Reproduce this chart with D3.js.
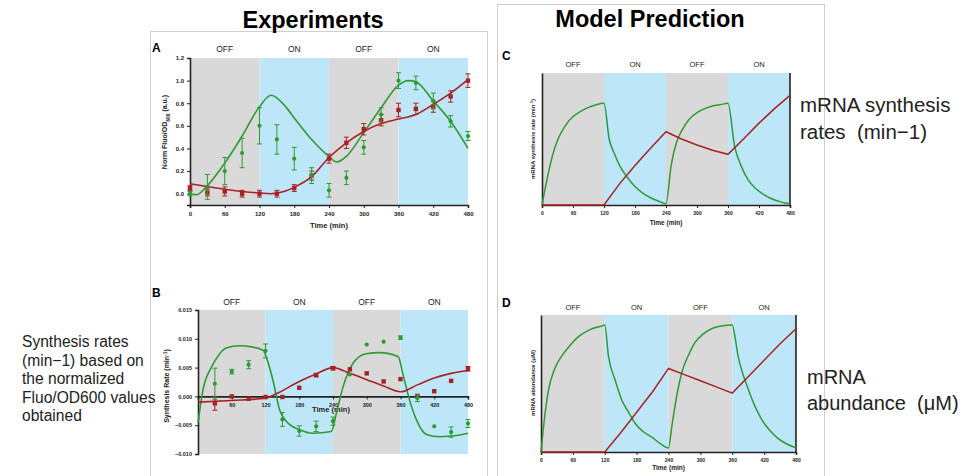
<!DOCTYPE html>
<html><head><meta charset="utf-8">
<script src="https://cdn.jsdelivr.net/npm/d3@7"></script>
<style>body{margin:0;background:#fff}svg{display:block;font-family:"Liberation Sans",Arial,sans-serif}</style>
</head><body>
<script>
// ---------- data ----------
const phaseStarts = [0, 120, 240, 360];
const phaseLabels = ["OFF", "ON", "OFF", "ON"];
const timeTicks = [0, 60, 120, 180, 240, 300, 360, 420, 480];
const timeTicksB = [60, 120, 180, 240, 300, 360, 420, 480];
const yTicksA = [0, 0.2, 0.4, 0.6, 0.8, 1.0, 1.2];
const yTicksB = [-0.010, -0.005, 0.000, 0.005, 0.010, 0.015];

const sampleTimes = [0, 30, 60, 90, 120, 150, 180, 210, 240, 270, 300, 330, 360, 390, 420, 450, 480];
// Panel A measured (normalized Fluo/OD600)
const greenA    = [0.00, 0.06, 0.20, 0.36, 0.60, 0.48, 0.31, 0.16, 0.03, 0.14, 0.41, 0.70, 1.00, 0.98, 0.82, 0.64, 0.51];
const greenAErr = [0.02, 0.11, 0.12, 0.13, 0.16, 0.13, 0.10, 0.07, 0.06, 0.06, 0.06, 0.06, 0.07, 0.06, 0.07, 0.05, 0.04];
const redA      = [0.05, 0.01, 0.02, 0.00, 0.00, 0.00, 0.05, 0.16, 0.31, 0.45, 0.57, 0.65, 0.74, 0.75, 0.77, 0.86, 1.00];
const redAErr   = [0.02, 0.03, 0.04, 0.03, 0.03, 0.03, 0.03, 0.04, 0.04, 0.05, 0.05, 0.05, 0.06, 0.05, 0.05, 0.05, 0.06];
// Panel A fits
const greenFitAT = [0, 11, 29, 60, 90, 120, 140, 165, 180, 210, 240, 253, 270, 300, 330, 360, 377, 390, 420, 450, 480];
const greenFitAV = [0.00, -0.01, 0.065, 0.27, 0.51, 0.77, 0.87, 0.77, 0.67, 0.48, 0.33, 0.28, 0.33, 0.54, 0.76, 0.96, 1.00, 0.99, 0.82, 0.64, 0.40];
const redFitAT = [0, 60, 120, 140, 165, 180, 210, 240, 270, 300, 330, 360, 390, 420, 450, 480];
const redFitAV = [0.088, 0.04, 0.006, 0.00, 0.024, 0.056, 0.15, 0.32, 0.45, 0.55, 0.62, 0.66, 0.70, 0.79, 0.89, 1.01];

// Panel B measured synthesis rates (min^-1)
const greenBT   = [30, 60, 90, 120, 150, 180, 210, 240, 270, 300, 330, 360, 390, 420, 450, 480];
const greenB    = [0.0022, 0.0043, 0.0055, 0.0079, -0.0040, -0.0060, -0.0052, -0.0043, 0.0038, 0.0090, 0.0095, 0.0102, -0.0003, -0.0052, -0.0062, -0.0047];
const greenBErr = [0.0027, 0.0004, 0.0007, 0.0012, 0.0012, 0.0009, 0.0009, 0.0007, 0, 0, 0, 0.0003, 0.0006, 0, 0.0009, 0.0007];
const redBT     = [30, 60, 90, 120, 150, 180, 210, 240, 270, 300, 330, 360, 390, 420, 450, 480];
const redB      = [-0.0012, 0.0000, -0.0004, -0.0001, -0.0001, 0.0015, 0.0037, 0.0049, 0.0047, 0.0040, 0.0026, 0.0030, 0.0001, 0.0009, 0.0027, 0.0048];
const redBErr   = [0.0012, 0, 0, 0, 0, 0, 0.0003, 0.0003, 0, 0, 0, 0, 0, 0, 0, 0.0004];
// Panel B fits
const greenFitBT = [0, 9, 24, 37, 50, 74, 95, 116, 121, 133, 145, 157, 181, 204, 237, 246, 258, 276, 299, 323, 356, 364, 376, 388, 406, 430, 459, 480];
const greenFitBV = [-0.0046, 0.0012, 0.0051, 0.0072, 0.0084, 0.0088, 0.0086, 0.0080, 0.0069, 0.0029, -0.0023, -0.0043, -0.0058, -0.0064, -0.0061, -0.0029, 0.0017, 0.0058, 0.0074, 0.0076, 0.0069, 0.0040, -0.0006, -0.0040, -0.0066, -0.0070, -0.0068, -0.0064];
const redFitBT = [0, 60, 120, 140, 180, 210, 240, 270, 300, 330, 360, 390, 420, 450, 480];
const redFitBV = [-0.0010, -0.0007, -0.0003, 0.0005, 0.0026, 0.0039, 0.0050, 0.0040, 0.0029, 0.0018, 0.0008, 0.0020, 0.0032, 0.0040, 0.0045];

// Panel C model synthesis rate (arbitrary units)
const greenCT = [0, 10, 20, 30, 45, 60, 75, 90, 105, 120, 130, 140, 150, 165, 180, 195, 210, 225, 240, 250, 260, 270, 285, 300, 315, 330, 345, 360, 373, 385, 399, 412, 425, 440, 457, 470, 480];
const greenCV = [0, 0.20, 0.37, 0.49, 0.60, 0.67, 0.71, 0.74, 0.76, 0.77, 0.50, 0.39, 0.30, 0.21, 0.14, 0.09, 0.055, 0.03, 0.01, 0.30, 0.47, 0.56, 0.65, 0.70, 0.73, 0.75, 0.76, 0.77, 0.44, 0.30, 0.19, 0.13, 0.09, 0.055, 0.03, 0.015, 0.01];
const redCT = [0, 120, 150, 180, 210, 240, 270, 300, 330, 360, 390, 420, 450, 480];
const redCV = [0, 0, 0.16, 0.30, 0.43, 0.555, 0.50, 0.455, 0.415, 0.384, 0.50, 0.62, 0.73, 0.83];

// Panel D model mRNA abundance (arbitrary units)
const greenDT = [0, 7, 14, 25, 39, 55, 70, 90, 114, 120, 127, 140, 152, 165, 177, 192, 208, 225, 240, 246, 252, 258, 265, 278, 290, 305, 321, 340, 360, 366, 371, 380, 390, 402, 415, 430, 446, 462, 480];
const greenDV = [0, 0.26, 0.45, 0.60, 0.70, 0.78, 0.84, 0.89, 0.92, 0.927, 0.70, 0.52, 0.38, 0.29, 0.21, 0.15, 0.11, 0.06, 0.03, 0.18, 0.33, 0.46, 0.58, 0.71, 0.80, 0.86, 0.90, 0.92, 0.927, 0.82, 0.70, 0.57, 0.46, 0.34, 0.24, 0.16, 0.10, 0.06, 0.03];
const redDT = [0, 120, 150, 180, 210, 240, 270, 300, 330, 360, 390, 420, 450, 480];
const redDV = [0, 0, 0.14, 0.29, 0.44, 0.61, 0.565, 0.52, 0.475, 0.43, 0.55, 0.67, 0.79, 0.90];

// ---------- drawing ----------
const GREEN = "#2f9a33", RED = "#a82124", GRAY = "#d9d9d9", BLUE = "#bde7f8", AX = "#222";
const svg = d3.select("body").append("svg").attr("width", 971).attr("height", 476);

// frames
svg.append("rect").attr("x", 150.5).attr("y", 31.5).attr("width", 337).attr("height", 460).attr("fill", "none").attr("stroke", "#cfcfcf");
svg.append("rect").attr("x", 497.5).attr("y", 4.5).attr("width", 327).attr("height", 490).attr("fill", "none").attr("stroke", "#cfcfcf");
svg.append("text").attr("x", 313).attr("y", 28).attr("text-anchor", "middle").attr("font-size", 23.5).attr("font-weight", "bold").text("Experiments");
svg.append("text").attr("x", 650).attr("y", 27).attr("text-anchor", "middle").attr("font-size", 23.5).attr("font-weight", "bold").text("Model Prediction");

function panel(o) {
  const g = svg.append("g");
  const x = d3.scaleLinear().domain([0, 480]).range([o.x0, o.x1]);
  const y = d3.scaleLinear().domain(o.yDomain).range([o.yb, o.yt]);
  // phase shading
  phaseStarts.forEach((s, i) => {
    g.append("rect").attr("x", x(s)).attr("y", o.yt).attr("width", x(s + 120) - x(s)).attr("height", o.yb - o.yt)
      .attr("fill", i % 2 ? BLUE : GRAY);
    g.append("text").attr("x", x(s + 60)).attr("y", o.labY).attr("text-anchor", "middle")
      .attr("font-size", o.labSize).attr("fill", "#222").text(phaseLabels[i]);
  });
  g.append("text").attr("x", o.letterX).attr("y", o.letterY).attr("font-size", 12).attr("font-weight", "bold").text(o.letter);
  // axes
  const yAxisPos = o.zeroAxis ? y(0) : o.yb;
  const xa = d3.axisBottom(x).tickValues(o.xTicks).tickSize(3).tickFormat(d3.format("d"));
  const gx = g.append("g").attr("transform", `translate(0,${yAxisPos})`).call(xa);
  gx.select(".domain").attr("stroke", AX).attr("stroke-width", 1.6);
  gx.selectAll(".tick line").attr("stroke", AX).attr("stroke-width", 1);
  gx.selectAll(".tick text").attr("font-size", o.tickSize).attr("font-weight", "bold").attr("fill", "#222").attr("dy", o.zeroAxis ? "0.9em" : "0.75em")
    .attr("font-family", '"Liberation Sans",Arial,sans-serif');
  const ya = d3.axisLeft(y).tickSize(o.yTicks ? 3 : 0);
  if (o.yTicks) ya.tickValues(o.yTicks).tickFormat(d3.format(o.yFmt)); else ya.tickValues([]);
  const gy = g.append("g").attr("transform", `translate(${o.x0},0)`).call(ya);
  gy.select(".domain").attr("stroke", AX).attr("stroke-width", 1.6);
  gy.selectAll(".tick line").attr("stroke", AX);
  gy.selectAll(".tick text").attr("font-size", o.tickSize).attr("font-weight", "bold").attr("fill", "#222")
    .attr("font-family", '"Liberation Sans",Arial,sans-serif');
  if (o.rightAxis) {
    g.append("line").attr("x1", o.x1).attr("x2", o.x1).attr("y1", o.yt).attr("y2", o.yb).attr("stroke", AX).attr("stroke-width", 1.6);
  }
  // axis titles
  g.append("text").attr("x", o.timeX || (o.x0 + o.x1) / 2).attr("y", o.timeY).attr("text-anchor", "middle")
    .attr("font-size", o.timeSize).attr("font-weight", "bold").attr("fill", "#222").text("Time (min)");
  const yl = g.append("text").attr("transform", `translate(${o.ylX},${o.ylY}) rotate(-90)`).attr("text-anchor", "middle")
    .attr("font-size", o.ylSize).attr("font-weight", "bold").attr("fill", "#222");
  o.ylParts.forEach(p => {
    const t = yl.append("tspan").text(p[0]);
    if (p[1] === "sub") t.attr("baseline-shift", "sub").attr("font-size", o.ylSize * 0.7);
    if (p[1] === "sup") t.attr("baseline-shift", "super").attr("font-size", o.ylSize * 0.7);
  });
  return { g, x, y };
}

function curve(p, T, V, color, w, type) {
  const line = d3.line().x((d, i) => p.x(T[i])).y((d, i) => p.y(V[i])).curve(type || d3.curveMonotoneX);
  p.g.append("path").datum(V).attr("d", line).attr("fill", "none").attr("stroke", color).attr("stroke-width", w);
}
function points(p, T, V, E, color, shape) {
  T.forEach((t, i) => {
    const cx = p.x(t), cy = p.y(V[i]);
    if (E[i] > 0) {
      const y1 = p.y(V[i] + E[i]), y2 = p.y(V[i] - E[i]);
      p.g.append("line").attr("x1", cx).attr("x2", cx).attr("y1", y1).attr("y2", y2).attr("stroke", color).attr("stroke-width", 1);
      [y1, y2].forEach(yy => p.g.append("line").attr("x1", cx - 2.5).attr("x2", cx + 2.5).attr("y1", yy).attr("y2", yy).attr("stroke", color).attr("stroke-width", 1));
    }
    if (shape === "sq") p.g.append("rect").attr("x", cx - 2.2).attr("y", cy - 2.2).attr("width", 4.4).attr("height", 4.4).attr("fill", color);
    else p.g.append("circle").attr("cx", cx).attr("cy", cy).attr("r", 2.1).attr("fill", color);
  });
}

// Panel A
const pA = panel({ x0: 190, x1: 468, yt: 58, yb: 205, yDomain: [-0.1, 1.2], labY: 52, labSize: 8.5, letter: "A", letterX: 152, letterY: 52,
  xTicks: timeTicks, yTicks: yTicksA, yFmt: ".1f", tickSize: 6, timeY: 228, timeSize: 7.5,
  ylX: 167, ylY: 132, ylSize: 7, ylParts: [["Norm Fluo/OD"], ["600", "sub"], [" (a.u.)"]] });
curve(pA, greenFitAT, greenFitAV, GREEN, 1.6);
curve(pA, redFitAT, redFitAV, RED, 1.6);
points(pA, sampleTimes, redA, redAErr, RED, "sq");
points(pA, sampleTimes, greenA, greenAErr, GREEN, "c");

// Panel B
const pB = panel({ x0: 198, x1: 468, yt: 310, yb: 454, yDomain: [-0.010, 0.015], labY: 305, labSize: 8.5, letter: "B", letterX: 152, letterY: 297,
  xTicks: timeTicksB, yTicks: yTicksB, yFmt: ".3f", tickSize: 5.5, timeY: 412, timeX: 331, timeSize: 7.5, zeroAxis: true,
  ylX: 169, ylY: 386, ylSize: 7, ylParts: [["Synthesis Rate (min"], ["-1", "sup"], [")"]] });
curve(pB, greenFitBT, greenFitBV, GREEN, 1.6);
curve(pB, redFitBT, redFitBV, RED, 1.6);
points(pB, redBT, redB, redBErr, RED, "sq");
points(pB, greenBT, greenB, greenBErr, GREEN, "c");

// Panel C
const pC = panel({ x0: 542, x1: 790, yt: 73, yb: 205, yDomain: [0, 1], labY: 67, labSize: 7.5, letter: "C", letterX: 502, letterY: 60,
  xTicks: timeTicks, yTicks: null, tickSize: 5, timeY: 225, timeSize: 6.5, rightAxis: true,
  ylX: 535, ylY: 139, ylSize: 6, ylParts: [["mRNA synthesis rate (min"], ["-1", "sup"], [")"]] });
curve(pC, greenCT, greenCV, GREEN, 1.5);
curve(pC, redCT, redCV, RED, 1.5, d3.curveLinear);

// Panel D
const pD = panel({ x0: 541, x1: 796, yt: 315, yb: 452, yDomain: [0, 1], labY: 310, labSize: 7.5, letter: "D", letterX: 502, letterY: 307,
  xTicks: timeTicks, yTicks: null, tickSize: 5, timeY: 470, timeSize: 6.5, rightAxis: true,
  ylX: 535, ylY: 383, ylSize: 6, ylParts: [["mRNA abundance (\u03bcM)"]] });
curve(pD, greenDT, greenDV, GREEN, 1.5);
curve(pD, redDT, redDV, RED, 1.5, d3.curveLinear);

// annotations
const leftLines = ["Synthesis rates", "(min\u22121) based on", "the normalized", "Fluo/OD600 values", "obtained"];
leftLines.forEach((t, i) => svg.append("text").attr("x", 22).attr("y", 347 + i * 18.6).attr("font-size", 15.6).attr("fill", "#222").text(t));
const rightTop = ["mRNA synthesis", "rates  (min\u22121)"];
rightTop.forEach((t, i) => svg.append("text").attr("x", 800).attr("y", 112 + i * 27).attr("font-size", 20.5).attr("fill", "#222").style("white-space", "pre").text(t));
const rightBot = ["mRNA", "abundance  (\u03bcM)"];
rightBot.forEach((t, i) => svg.append("text").attr("x", 807).attr("y", 384 + i * 26).attr("font-size", 20).attr("fill", "#222").style("white-space", "pre").text(t));
</script>
</body></html>
